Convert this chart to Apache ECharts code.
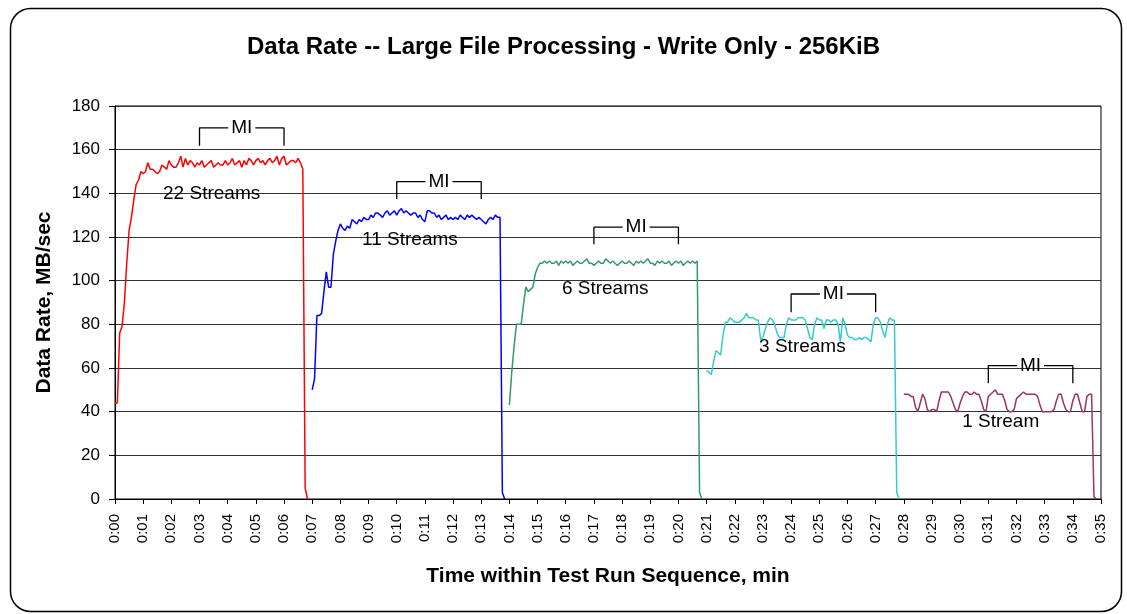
<!DOCTYPE html>
<html>
<head>
<meta charset="utf-8">
<script src="https://cdn.jsdelivr.net/npm/echarts@6/dist/echarts.min.js"></script>
<style>
  html, body { margin: 0; padding: 0; background: #fff; }
  #chart { width: 1127px; height: 614px; }
</style>
</head>
<body>
<div id="chart"></div>
<script>
// sample step: 5 seconds, in minutes
const sampleStep = 1 / 12;

// series names, start times (min) and sampled data rates (MB/sec)
const seriesNames = ["22 Streams", "11 Streams", "6 Streams", "3 Streams", "1 Stream"];
const seriesStart = [0, 7, 14, 21, 28];
const seriesColors = ["#ff0000", "#0000ff", "#339966", "#33cccc", "#993366"];

const red = [44, 44, 76, 79, 90, 108, 123, 129, 137, 144, 146, 150, 149, 150, 154, 151, 151, 150, 149, 150,
  153, 152, 151, 155, 153, 152, 152, 154, 157, 152, 156, 153, 155, 154, 152, 154, 153, 155, 152, 153,
  154, 155, 152, 153, 154, 153, 153, 155, 153, 154, 156, 153, 154, 155, 152, 155, 153, 156, 155, 153,
  155, 156, 154, 155, 153, 155, 156, 154, 155, 157, 153, 156, 157, 153, 154, 155, 155, 154, 156, 154,
  151, 5, 0];
const blue = [50, 55, 84, 84, 85, 95, 104, 97, 97, 112, 118, 123, 126, 124, 123, 125, 124, 128, 127, 126,
  128, 127, 129, 128, 128, 130, 129, 131, 131, 130, 129, 131, 132, 130, 131, 132, 130, 132, 133, 131,
  132, 131, 130, 131, 131, 129, 130, 128, 127, 132, 132, 131, 131, 129, 130, 128, 129, 130, 128, 129,
  128, 129, 128, 130, 129, 128, 130, 129, 130, 129, 128, 129, 128, 127, 126, 128, 129, 128, 130, 129,
  129, 3, 0];
const green = [43, 58, 70, 80, 80, 80, 89, 97, 95, 96, 97, 103, 106, 108, 108, 109, 108, 109, 108, 108,
  109, 107, 109, 108, 109, 108, 109, 107, 108, 109, 108, 108, 109, 110, 108, 108, 107, 108, 109, 108,
  108, 110, 109, 108, 109, 108, 107, 108, 109, 108, 108, 109, 108, 107, 109, 108, 109, 108, 109, 110,
  108, 108, 107, 109, 108, 109, 108, 108, 109, 107, 108, 109, 108, 109, 107, 108, 109, 108, 109, 108,
  109, 3, 0];
const cyan = [59, 58, 57, 63, 68, 67, 66, 75, 81, 81, 83, 82, 81, 81, 81, 82, 83, 85, 83, 83,
  83, 82, 82, 73, 74, 78, 81, 83, 82, 80, 76, 74, 74, 74, 80, 83, 82, 82, 82, 83,
  83, 83, 82, 78, 74, 73, 80, 83, 82, 82, 78, 82, 82, 81, 82, 82, 80, 72, 83, 80,
  75, 74, 74, 73, 73, 74, 73, 74, 74, 73, 72, 80, 83, 83, 81, 77, 74, 80, 83, 82,
  82, 3, 0];
const purple = [48, 48, 48, 47, 47, 42, 40, 44, 48, 46, 41, 40, 41, 41, 40, 45, 49, 49, 49, 49,
  47, 44, 41, 40, 44, 47, 49, 49, 48, 48, 49, 48, 48, 45, 41, 40, 47, 48, 49, 50,
  48, 48, 48, 45, 41, 40, 40, 41, 46, 47, 48, 49, 48, 48, 48, 48, 48, 47, 43, 40,
  40, 40, 40, 40, 41, 45, 48, 48, 44, 41, 40, 40, 45, 48, 48, 44, 40, 40, 47, 48,
  48, 1, 0];
const seriesValues = [red, blue, green, cyan, purple];

// measurement interval brackets ("MI"): start/end minute, top and foot values
const miStart = [3, 10, 17, 24, 31];
const miEnd = [6, 13, 20, 27, 34];
const miTop = [170, 145.4, 124.5, 93.9, 61.1];
const miFoot = [161.8, 137.4, 116.7, 85.5, 53];
const miGap = 0.48; // half width of the gap left for the "MI" text, in minutes

// series text labels: minute and value where they sit
const labelTime = [3.43, 10.47, 17.4, 24.4, 31.44];
const labelValue = [139.6, 118.6, 96.5, 69.8, 35.4];

// axis ticks
const xMin = 0, xMax = 35, xStep = 1;
const yMin = 0, yMax = 180, yStep = 20;

const font = "Liberation Sans";

const chart = echarts.init(document.getElementById("chart"), null, { renderer: "canvas" });

const series = [];

seriesValues.forEach((vals, k) => {
  series.push({
    name: seriesNames[k],
    type: "line",
    showSymbol: false,
    symbol: "none",
    color: seriesColors[k],
    lineStyle: { width: 1.5, color: seriesColors[k] },
    data: vals.map((v, i) => [seriesStart[k] + i * sampleStep, v]),
    z: 3,
  });
});

// MI brackets (two halves each, text in the middle)
miStart.forEach((s, k) => {
  const mid = (s + miEnd[k]) / 2;
  const common = {
    type: "line",
    showSymbol: false,
    symbol: "none",
    lineStyle: { width: 1.3, color: "#000" },
    silent: true,
    z: 4,
  };
  series.push(Object.assign({}, common, {
    data: [[s, miFoot[k]], [s, miTop[k]], [mid - miGap, miTop[k]]],
  }));
  series.push(Object.assign({}, common, {
    data: [[mid + miGap, miTop[k]], [miEnd[k], miTop[k]], [miEnd[k], miFoot[k]]],
  }));
});

// text marks: "MI" above each bracket and the stream count labels
const textLabel = {
  show: true,
  position: "inside",
  color: "#000",
  textBorderWidth: 0,
  fontFamily: font,
  fontSize: 19,
};
// scatter is 0.8 opaque by default, which greys the text
series.push({
  type: "scatter",
  symbolSize: 0,
  silent: true,
  z: 5,
  itemStyle: { opacity: 1 },
  label: Object.assign({}, textLabel, { formatter: "MI" }),
  data: miStart.map((s, k) => [(s + miEnd[k]) / 2, miTop[k]]),
});
series.push({
  type: "scatter",
  symbolSize: 0,
  silent: true,
  z: 5,
  itemStyle: { opacity: 1 },
  label: Object.assign({}, textLabel, { formatter: (p) => seriesNames[p.dataIndex] }),
  data: labelTime.map((t, k) => [t, labelValue[k]]),
});

const option = {
  backgroundColor: "#fff",
  animation: false,
  title: {
    text: "Data Rate -- Large File Processing - Write Only - 256KiB",
    left: "center",
    top: 30,
    textStyle: {
      fontFamily: font,
      fontWeight: "bold",
      fontSize: 24,
      color: "#000",
    },
  },
  grid: {
    left: 115,
    right: 26,
    top: 106,
    bottom: 115,
    show: true,
    backgroundColor: "transparent",
    borderColor: "#000",
    borderWidth: 1,
  },
  xAxis: {
    type: "value",
    min: xMin,
    max: xMax,
    interval: xStep,
    name: "Time within Test Run Sequence, min",
    nameLocation: "middle",
    nameGap: 67,
    nameTextStyle: { fontFamily: font, fontWeight: "bold", fontSize: 21, color: "#000" },
    axisLine: { lineStyle: { color: "#000", width: 1 } },
    axisTick: { show: true, length: 5, lineStyle: { color: "#000" } },
    axisLabel: {
      rotate: 90,
      margin: 15,
      fontFamily: font,
      fontSize: 15,
      color: "#000",
      formatter: (v) => "0:" + String(Math.round(v)).padStart(2, "0"),
    },
    splitLine: { show: false },
  },
  yAxis: {
    type: "value",
    min: yMin,
    max: yMax,
    interval: yStep,
    name: "Data Rate, MB/sec",
    nameLocation: "middle",
    nameRotate: 90,
    nameGap: 60,
    nameTextStyle: { fontFamily: font, fontWeight: "bold", fontSize: 21, color: "#000" },
    axisLine: { show: true, lineStyle: { color: "#000", width: 1 } },
    axisTick: { show: true, length: 6, lineStyle: { color: "#000" } },
    axisLabel: { margin: 15, fontFamily: font, fontSize: 17, color: "#000" },
    splitLine: { show: true, lineStyle: { color: "#333", width: 1 } },
  },
  graphic: [
    {
      type: "rect",
      left: 8,
      top: 6,
      shape: { width: 1111, height: 603, r: 20 },
      style: { fill: "none", stroke: "#000", lineWidth: 1.5 },
      silent: true,
      z: -1,
    },
  ],
  series: series,
};

chart.setOption(option);
</script>
</body>
</html>
